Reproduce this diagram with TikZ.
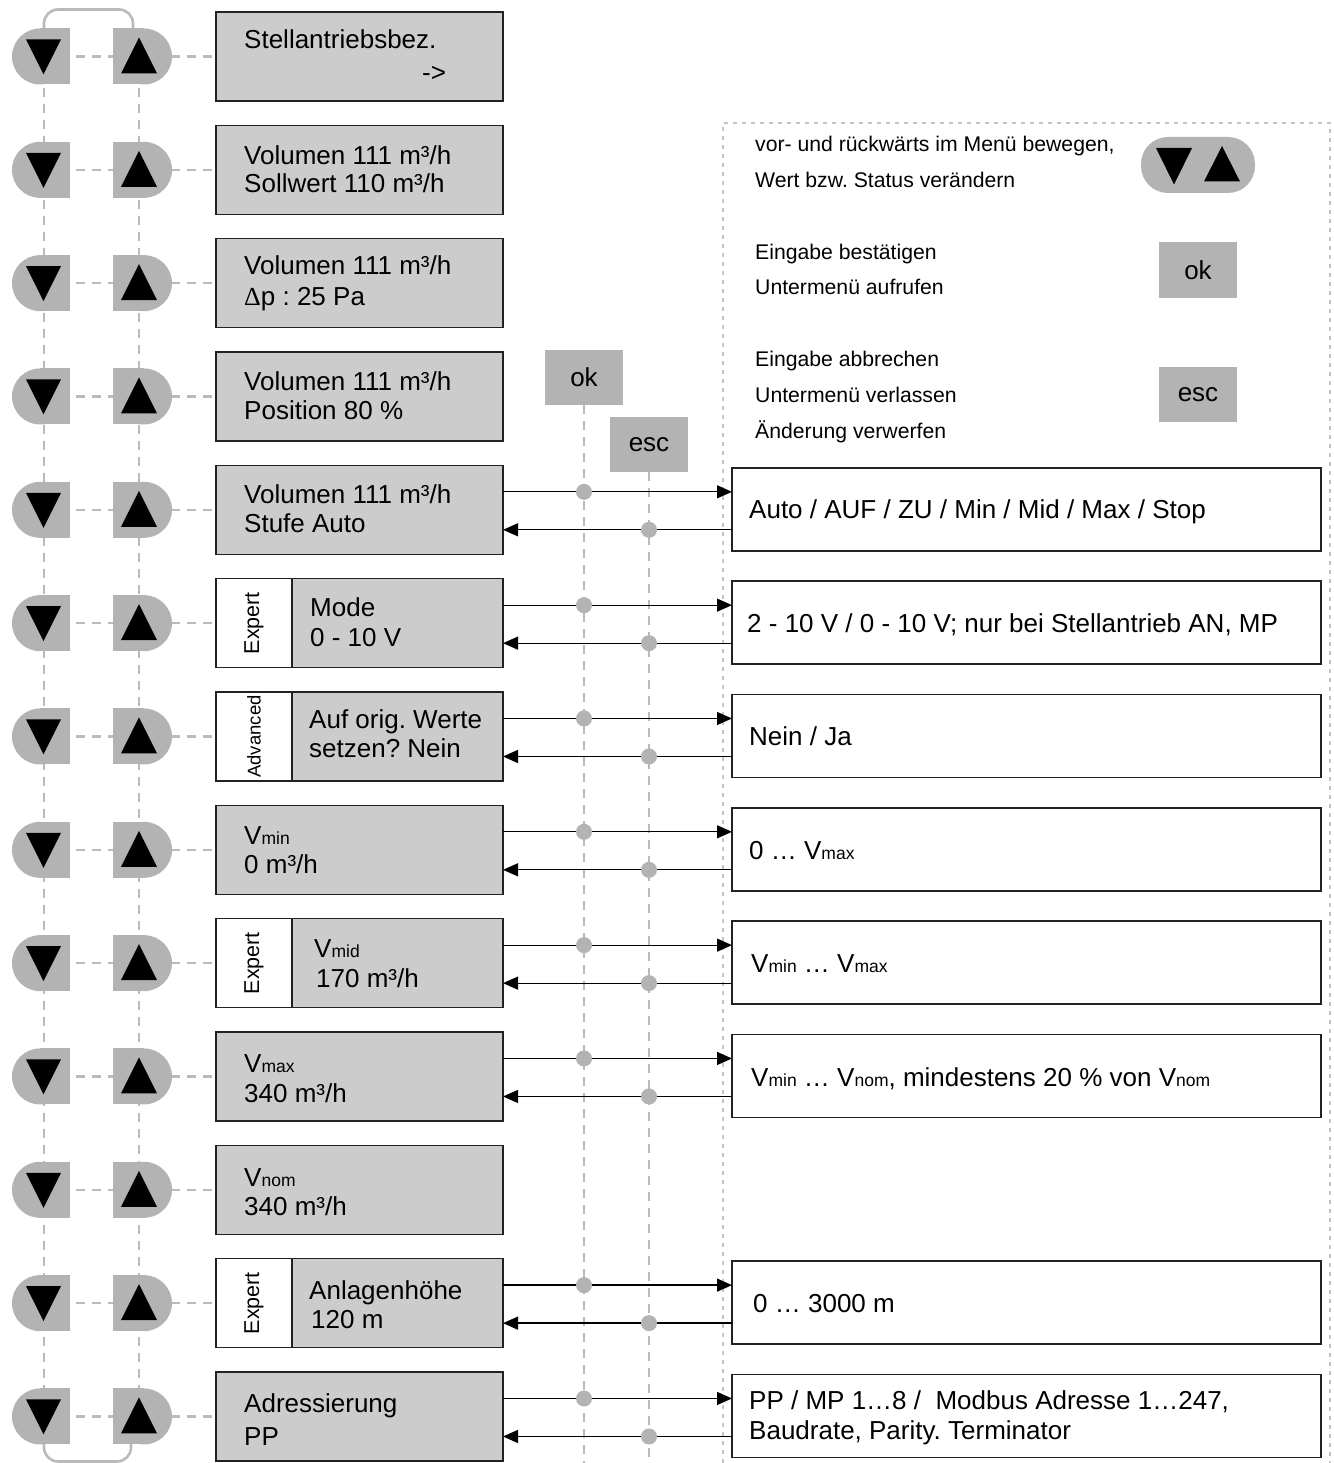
\documentclass[tikz,border=0pt]{standalone}
\usepackage{fontspec}
\setmainfont{Liberation Sans}
\newfontfamily\deltafont{Liberation Serif}
\usetikzlibrary{arrows.meta,calc}
\definecolor{btngray}{HTML}{B3B3B3}
\definecolor{boxgray}{HTML}{CCCCCC}
\definecolor{linegray}{HTML}{BABABA}
\definecolor{framegray}{HTML}{C4C4C4}
\definecolor{edgec}{HTML}{222222}
\newcommand{\lsub}[1]{{\fontsize{17.5}{17.5}\selectfont #1}}
\frenchspacing
\tikzset{
 menubox/.style={draw=edgec, line width=1.4pt, fill=boxgray, minimum width=287pt, minimum height=89pt, inner sep=0pt, outer sep=0pt},
 rbox/.style={draw=edgec, line width=1.4pt, fill=white, minimum width=589pt, minimum height=83pt, inner sep=0pt, outer sep=0pt},
 keybox/.style={fill=btngray, minimum width=78pt, minimum height=55pt, inner sep=0pt, outer sep=0pt, font=\fontsize{26}{30}\selectfont},
 txt/.style={inner sep=0pt, anchor=base west, font=\fontsize{26}{30}\selectfont},
 ltxt/.style={inner sep=0pt, anchor=base west, font=\fontsize{21.2}{25}\selectfont},
 dashl/.style={draw=linegray, line width=2.6pt, dash pattern=on 9pt off 7pt},
 legendframe/.style={draw=framegray, line width=2pt, dash pattern=on 4pt off 5pt},
 arr/.style={draw=black, line width=1.3pt, -{Triangle[length=15pt,width=13pt]}},
 solidgray/.style={draw=linegray, line width=2.6pt, rounded corners=14pt},
}
\begin{document}
\begin{tikzpicture}[x=1pt,y=-1pt]
\useasboundingbox (0,0) rectangle (1333,1463);
\fill[white] (0,0) rectangle (1333,1463);

% legend frame
\coordinate (fa) at (723,1463);
\coordinate (fb) at (723,123);
\coordinate (fc) at (1330,123);
\coordinate (fd) at (1330,1463);
\draw[legendframe] (fa) -- (fb) -- (fc) -- (fd);

% menu boxes
\foreach \i in {0,...,12}{
  \pgfmathsetmacro\c{56.5+113.33*\i}
  \coordinate (d\i) at (44,\c);
  \coordinate (u\i) at (139,\c);
  \node[menubox] (m\i) at (359.5,\c) {};
}

% dashed navigation lines
\draw[dashl] (d0) -- (d12);
\draw[dashl] (u0) -- (u12);
\foreach \i in {0,...,12}{
  \draw[dashl] (d\i) -- (u\i);
  \draw[dashl] (u\i) -- (m\i.west);
}
\draw[solidgray] ($(d0)+(0,-28)$) -- ($(d0)+(0,-47)$) -- ($(u0)+(-6,-47)$) -- ($(u0)+(-6,-28)$);
\draw[solidgray] ($(d12)+(0,27)$) -- ($(d12)+(0,45)$) -- ($(u12)+(-8,45)$) -- ($(u12)+(-8,27)$);

% buttons
\foreach \i in {0,...,12}{
  \fill[btngray] ($(d\i)+(-4,0)$) circle (28);
  \fill[btngray] ($(d\i)+(-4,-28)$) rectangle ($(d\i)+(26,28)$);
  \fill[black] ($(d\i)+(-18,-17)$) -- ($(d\i)+(17,-17)$) -- ($(d\i)+(-0.5,18)$) -- cycle;
  \fill[btngray] ($(u\i)+(5,0)$) circle (28);
  \fill[btngray] ($(u\i)+(-26,-28)$) rectangle ($(u\i)+(5,28)$);
  \fill[black] ($(u\i)+(-18,17)$) -- ($(u\i)+(18,17)$) -- ($(u\i)+(0,-19)$) -- cycle;
}

% Expert / Advanced tags
\foreach \i/\t/\f in {5/Expert/21.5, 8/Expert/21.5, 11/Expert/21.5, 6/Advanced/18.5}{
  \draw[draw=edgec, line width=1.4pt, fill=white] (m\i.north west) rectangle ($(m\i.south west)+(76,0)$);
  \node[inner sep=0pt, rotate=90, font=\fontsize{\f}{\f}\selectfont] (tag\i) at ($(m\i.west)+(38,0)$) {\t};
}

% ok / esc keys with their lines
\node[keybox] (ok) at (584,377.5) {ok};
\node[keybox] (esc) at (649,444.5) {esc};
\coordinate (okend) at (ok.south |- 0,1463);
\coordinate (escend) at (esc.south |- 0,1463);
\draw[dashl] (ok.south) -- (okend);
\draw[dashl] (esc.south) -- (escend);

% right boxes and arrows
\foreach \i in {4,5,6,7,8,9,11,12}{
  \pgfmathsetmacro\c{56.5+113.33*\i}
  \node[rbox] (r\i) at (1026.5,\c-0.5) {};
  \coordinate (ra\i) at ($(m\i.east)+(0,-18)$);
  \coordinate (la\i) at ($(m\i.east)+(0,20)$);
  \draw[arr] (ra\i) -- (ra\i -| r\i.west);
  \draw[arr] (la\i -| r\i.west) -- (la\i);
  \fill[btngray] (ra\i -| ok.south) circle (8);
  \fill[btngray] (la\i -| esc.south) circle (8);
}

% menu texts
\node[txt] (t0a) at (244,49) {Stellantriebsbez.};
\node[txt] (t0b) at (422,82) {->};
\node[txt] (t1a) at (244,164.3) {Volumen 111 m³/h};
\node[txt] (t1b) at (244,192.8) {Sollwert 110 m³/h};
\node[txt] (t2a) at (244,274) {Volumen 111 m³/h};
\node[txt] (t2b) at (244,305) {{\deltafont Δ}p : 25 Pa};
\node[txt] (t3a) at (244,390) {Volumen 111 m³/h};
\node[txt] (t3b) at (244,419.5) {Position 80 \%};
\node[txt] (t4a) at (244,503) {Volumen 111 m³/h};
\node[txt] (t4b) at (244,532.5) {Stufe Auto};
\node[txt] (t5a) at (310,616.5) {Mode};
\node[txt] (t5b) at (310,646) {0 - 10 V};
\node[txt] (t6a) at (309,728.5) {Auf orig. Werte};
\node[txt] (t6b) at (309,757.5) {setzen? Nein};
\node[txt] (t7a) at (244,844) {V\lsub{min}};
\node[txt] (t7b) at (244,873) {0 m³/h};
\node[txt] (t8a) at (314,957.5) {V\lsub{mid}};
\node[txt] (t8b) at (316,987) {170 m³/h};
\node[txt] (t9a) at (244,1072) {V\lsub{max}};
\node[txt] (t9b) at (244,1102) {340 m³/h};
\node[txt] (t10a) at (244,1186) {V\lsub{nom}};
\node[txt] (t10b) at (244,1215) {340 m³/h};
\node[txt] (t11a) at (309,1299) {Anlagenhöhe};
\node[txt] (t11b) at (311,1328) {120 m};
\node[txt] (t12a) at (244,1412) {Adressierung};
\node[txt] (t12b) at (244,1445) {PP};

% right box texts
\node[txt] (s4) at (749,518.5) {Auto / AUF / ZU / Min / Mid / Max / Stop};
\node[txt] (s5) at (747,632) {2 - 10 V / 0 - 10 V; nur bei Stellantrieb AN, MP};
\node[txt] (s6) at (749,745.5) {Nein / Ja};
\node[txt] (s7) at (749,859) {0 … V\lsub{max}};
\node[txt] (s8) at (751,972.5) {V\lsub{min} … V\lsub{max}};
\node[txt] (s9) at (751,1086) {V\lsub{min} … V\lsub{nom}, mindestens 20 \% von V\lsub{nom}};
\node[txt] (s11) at (753,1312.5) {0 … 3000 m};
\node[txt] (s12a) at (749,1409) {PP / MP 1…8 /\ \ Modbus Adresse 1…247,};
\node[txt] (s12b) at (749,1439) {Baudrate, Parity. Terminator};

% legend
\node[ltxt] (l1) at (755,152) {vor- und rückwärts im Menü bewegen,};
\node[ltxt] (l2) at (755,188) {Wert bzw. Status verändern};
\node[ltxt] (l3) at (755,259.5) {Eingabe bestätigen};
\node[ltxt] (l4) at (755,294.5) {Untermenü aufrufen};
\node[ltxt] (l5) at (755,366) {Eingabe abbrechen};
\node[ltxt] (l6) at (755,402) {Untermenü verlassen};
\node[ltxt] (l7) at (755,438.5) {Änderung verwerfen};
\fill[btngray, rounded corners=27pt] (1141,137) rectangle (1255,193);
\fill[black] (1156,148) -- (1192,148) -- (1174,184.5) -- cycle;
\fill[black] (1204,181.5) -- (1240,181.5) -- (1222,146) -- cycle;
\node[keybox] (lok) at (1198,270) {ok};
\node[keybox] (lesc) at (1198,394.5) {esc};
\end{tikzpicture}
\end{document}
